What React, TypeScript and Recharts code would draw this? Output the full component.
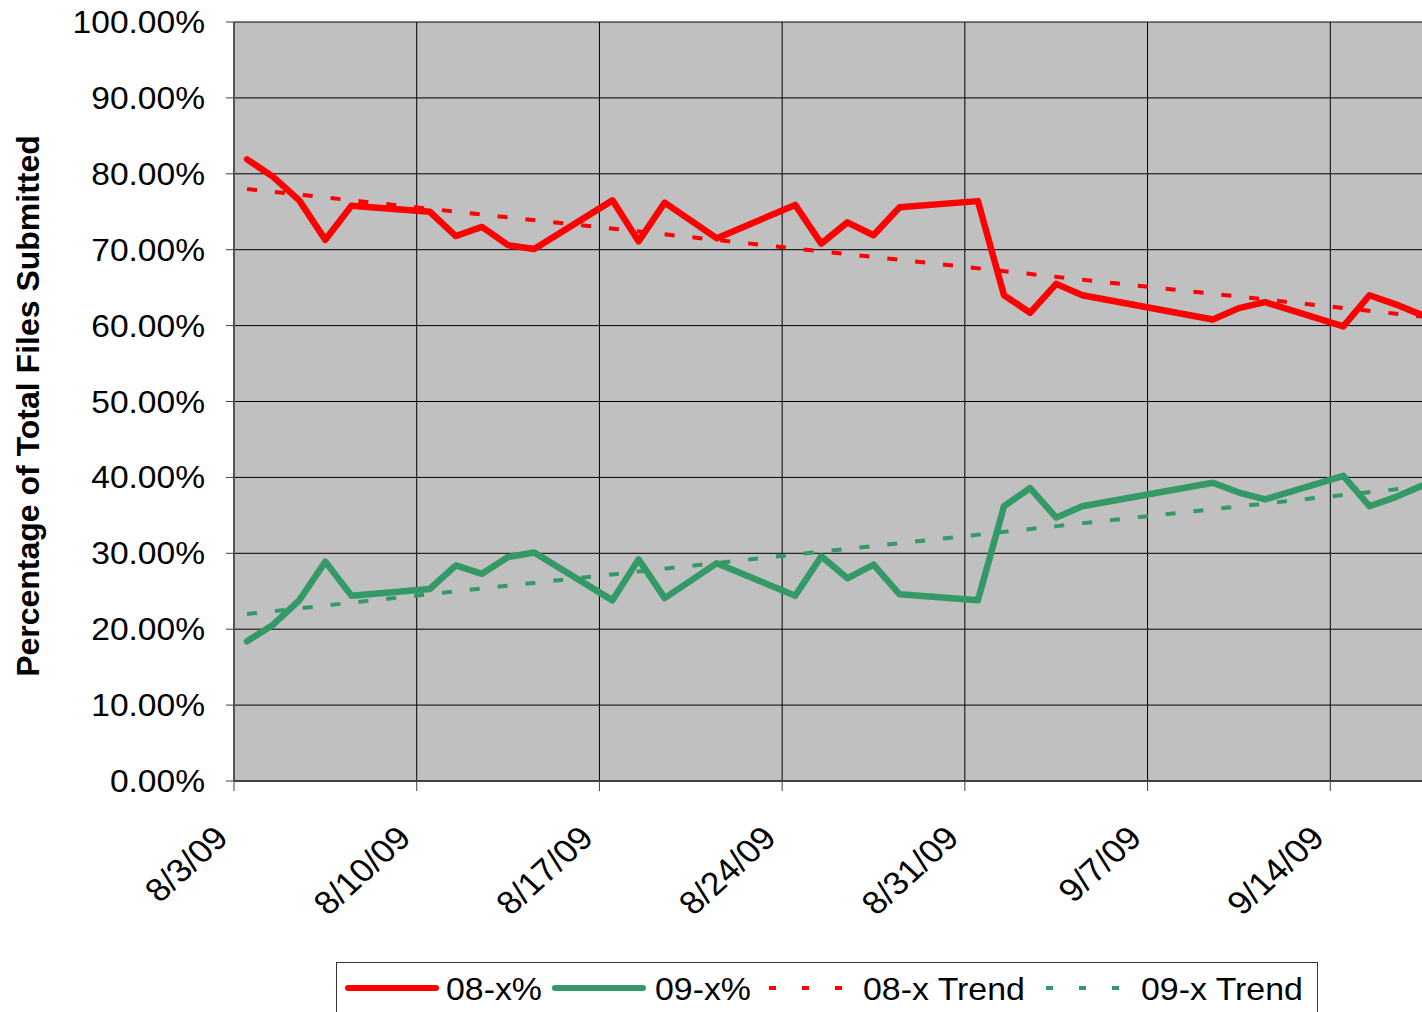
import { LineChart, Line, XAxis, YAxis, CartesianGrid } from 'recharts'

// business days in the period (weekends and a few days have no value)
const dates = [
  '2009-08-03', '2009-08-04', '2009-08-05', '2009-08-06', '2009-08-07',
  '2009-08-10', '2009-08-11', '2009-08-12', '2009-08-13', '2009-08-14',
  '2009-08-17', '2009-08-18', '2009-08-19', '2009-08-21',
  '2009-08-24', '2009-08-25', '2009-08-26', '2009-08-27', '2009-08-28',
  '2009-08-31', '2009-09-01', '2009-09-02', '2009-09-03', '2009-09-04',
  '2009-09-09', '2009-09-10', '2009-09-11',
  '2009-09-14', '2009-09-15', '2009-09-16', '2009-09-17',
]
const pct08 = [
  81.9, 79.6, 76.5, 71.3, 75.8,
  75.0, 71.8, 73.0, 70.6, 70.1,
  76.5, 71.1, 76.2, 71.5,
  75.9, 70.8, 73.6, 71.9, 75.6,
  76.4, 64.0, 61.7, 65.5, 64.0,
  60.8, 62.3, 63.1,
  59.9, 64.0, 62.8, 61.4,
]
const pct09 = [
  18.4, 20.6, 23.8, 28.9, 24.4,
  25.3, 28.4, 27.3, 29.5, 30.1,
  23.8, 29.2, 24.1, 28.7,
  24.4, 29.6, 26.7, 28.5, 24.6,
  23.8, 36.2, 38.6, 34.7, 36.2,
  39.3, 38.0, 37.1,
  40.2, 36.2, 37.4, 38.9,
]

// linear trend lines, read at first and last day
const trendDates = ['2009-08-03', '2009-09-17']
const trend08 = [78.0, 61.2]
const trend09 = [22.0, 38.8]

// axis runs to 9/21 but the picture is cut before that tick
const axisStart = '2009-08-03'
const axisEnd = '2009-09-21'
const tickDates = ['2009-08-03', '2009-08-10', '2009-08-17', '2009-08-24', '2009-08-31', '2009-09-07', '2009-09-14']
const yTicks = [0, 10, 20, 30, 40, 50, 60, 70, 80, 90, 100]

const DAY = 86400000
const dayOf = (s: string) => Date.parse(s + 'T00:00:00Z') / DAY
// excel date axis puts the point in the middle of the day
const noonOf = (s: string) => dayOf(s) + 0.5

const rows = dates.map((d, i) => ({ t: noonOf(d), a: pct08[i], b: pct09[i] }))
const trendRows = trendDates.map((d, i) => ({ t: noonOf(d), a: trend08[i], b: trend09[i] }))
const xTicks = tickDates.map(dayOf)

const RED = '#FF0000'
const GREEN = '#339966'
const FONT = '"Liberation Sans", Arial, sans-serif'

function fmtDate(v: number) {
  const d = new Date(Math.round(v) * DAY)
  return `${d.getUTCMonth() + 1}/${d.getUTCDate()}/${String(d.getUTCFullYear()).slice(2)}`
}

function YTick({ x, y, payload }: any) {
  return (
    <g transform={`translate(${x},${y}) scale(1.1,1)`}>
      <text x={0} y={0} dy={11} textAnchor="end" fontFamily={FONT} fontSize={30.5} fill="#000">
        {payload.value.toFixed(2)}%
      </text>
    </g>
  )
}

function XTick({ x, y, payload }: any) {
  return (
    <g transform={`translate(${x - 4},${y + 47}) scale(1.1,1) rotate(-45)`}>
      <text x={0} y={0} textAnchor="end" fontFamily={FONT} fontSize={32.5} fill="#000">
        {fmtDate(payload.value)}
      </text>
    </g>
  )
}

function YTitle() {
  return (
    <text
      transform="translate(39,406) rotate(-90)"
      textAnchor="middle"
      fontFamily={FONT}
      fontWeight="bold"
      fontSize={32}
      fill="#000"
    >
      Percentage of Total Files Submitted
    </text>
  )
}

function LegendBox() {
  const text = (x: number, label: string) => (
    <text transform={`translate(${x},38) scale(1.1,1)`} fontFamily={FONT} fontSize={30.8} fill="#000">
      {label}
    </text>
  )
  return (
    <svg width={990} height={60} style={{ position: 'absolute', left: 336, top: 962 }}>
      <rect x={0.5} y={0.5} width={981} height={80} fill="#fff" stroke="#333" strokeWidth={1} />
      <line x1={12} x2={100} y1={26} y2={26} stroke={RED} strokeWidth={6} strokeLinecap="round" />
      {text(110, '08-x%')}
      <line x1={219} x2={307} y1={26} y2={26} stroke={GREEN} strokeWidth={6} strokeLinecap="round" />
      {text(319, '09-x%')}
      <line x1={433} x2={523} y1={26} y2={26} stroke={RED} strokeWidth={4} strokeDasharray="7 26" />
      {text(527, '08-x Trend')}
      <line x1={710} x2={800} y1={26} y2={26} stroke={GREEN} strokeWidth={4} strokeDasharray="7 26" />
      {text(805, '09-x Trend')}
    </svg>
  )
}

export default function App() {
  return (
    <div style={{ position: 'absolute', left: 0, top: 0, width: 1422, height: 1012, overflow: 'hidden', background: '#fff' }}>
      <LineChart width={1520} height={1012} data={rows} margin={{ top: 22, right: 7, bottom: 0, left: 0 }}>
        <CartesianGrid stroke="#000" strokeWidth={1} fill="#C0C0C0" fillOpacity={1} />
        <XAxis
          type="number"
          dataKey="t"
          domain={[dayOf(axisStart), dayOf(axisEnd)]}
          ticks={xTicks}
          interval={0}
          allowDataOverflow
          height={231}
          tickSize={10}
          tick={<XTick />}
          axisLine={{ stroke: '#404040', strokeWidth: 2 }}
          tickLine={{ stroke: '#404040' }}
        />
        <YAxis
          type="number"
          domain={[0, 100]}
          ticks={yTicks}
          interval={0}
          width={234}
          tickSize={8}
          tickMargin={21}
          tick={<YTick />}
          axisLine={{ stroke: '#555', strokeWidth: 2 }}
          tickLine={{ stroke: '#404040' }}
          label={<YTitle />}
        />
        <Line
          data={trendRows}
          dataKey="a"
          stroke={RED}
          strokeWidth={4}
          strokeDasharray="10 18"
          dot={false}
          activeDot={false}
          isAnimationActive={false}
        />
        <Line
          data={trendRows}
          dataKey="b"
          stroke={GREEN}
          strokeWidth={4}
          strokeDasharray="10 18"
          dot={false}
          activeDot={false}
          isAnimationActive={false}
        />
        <Line
          type="linear"
          dataKey="a"
          stroke={RED}
          strokeWidth={6.5}
          strokeLinejoin="round"
          strokeLinecap="round"
          dot={false}
          activeDot={false}
          isAnimationActive={false}
        />
        <Line
          type="linear"
          dataKey="b"
          stroke={GREEN}
          strokeWidth={6.5}
          strokeLinejoin="round"
          strokeLinecap="round"
          dot={false}
          activeDot={false}
          isAnimationActive={false}
        />
      </LineChart>
      <LegendBox />
    </div>
  )
}
